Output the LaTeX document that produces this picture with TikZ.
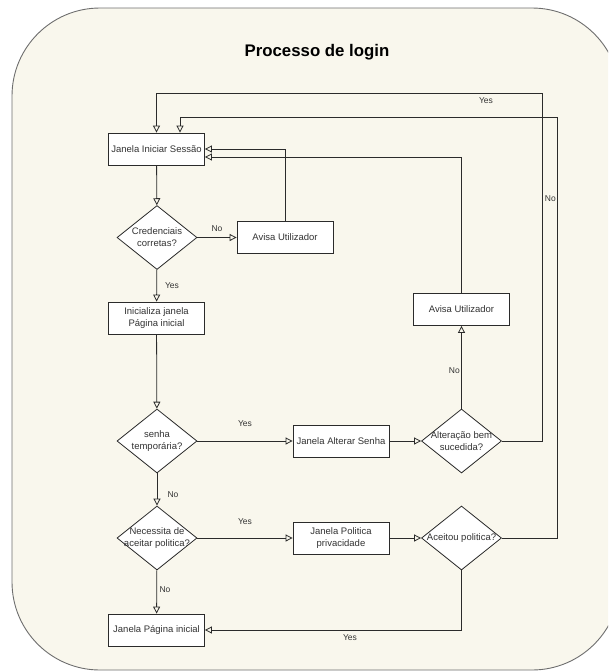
\documentclass[tikz,border=0pt]{standalone}
\usepackage{fontspec}
\setmainfont{Liberation Sans}
\usetikzlibrary{arrows.meta,shapes.geometric}
\definecolor{canvas}{HTML}{F9F7ED}
\definecolor{frame}{HTML}{6E6E6E}
\definecolor{ink}{HTML}{2B2B2B}
\definecolor{textgray}{HTML}{333333}
\begin{document}
\begin{tikzpicture}[x=1pt,y=-1pt,
  stepbox/.style={draw=ink, fill=white, line width=0.8pt, minimum width=96pt,
    minimum height=32pt, inner sep=1pt, align=center,
    font=\fontsize{9.5}{12}\selectfont, text=textgray},
  decision/.style={diamond, draw=ink, fill=white, line width=0.8pt,
    minimum width=80pt, minimum height=64pt, inner sep=0pt},
  dtext/.style={align=center, inner sep=0pt,
    font=\fontsize{9.5}{12}\selectfont, text=textgray},
  flow/.style={draw=ink, line width=0.8pt,
    -{Triangle[open,length=7pt,width=7pt]}},
  lbl/.style={font=\fontsize{8.5}{10}\selectfont, text=textgray, inner sep=1pt}
]
\useasboundingbox (0,0) rectangle (608,672);

% frame of the whole process
\begin{scope}
  \clip (0,0) rectangle (608,672);
  \path[fill=canvas, draw=frame, line width=0.9pt, rounded corners=88pt]
    (12,8) rectangle (620,670);
\end{scope}

\node[font=\bfseries\fontsize{16.8}{20}\selectfont, text=black] (title) at (317,52) {Processo de login};

% steps
\node[stepbox] (ini) at (156.5,149) {Janela Iniciar Sessão};
\node[decision] (cred) at (157,237.5) {};
\node[dtext] (credtxt) at (cred) {Credenciais\\corretas?};
\node[stepbox] (avisa1) at (285,237.5) {Avisa Utilizador};
\node[stepbox] (inicializa) at (156.5,318) {Inicializa janela\\Página inicial};
\node[decision] (senha) at (157,441) {};
\node[dtext] (senhatxt) at (senha) {senha\\temporária?};
\node[stepbox] (alterar) at (341,441) {Janela Alterar Senha};
\node[decision] (alteracao) at (461.5,441) {};
\node[dtext] (alteracaotxt) at (alteracao) {Alteração bem\\sucedida?};
\node[stepbox] (avisa2) at (461.5,309.5) {Avisa Utilizador};
\node[decision] (necessita) at (157,538) {};
\node[dtext] (necessitatxt) at (necessita) {Necessita de\\aceitar politica?};
\node[stepbox] (politica) at (341,538) {Janela Politica\\privacidade};
\node[decision] (aceitou) at (461.5,538) {};
\node[dtext] (aceitoutxt) at (aceitou) {Aceitou politica?};
\node[stepbox] (pagina) at (156.5,630) {Janela Página inicial};

% bends of the return lines
\coordinate (yesbend) at (542,93);
\coordinate (nobend) at (557,117);

% connectors
\draw[flow] (ini) -- (cred);
\draw[flow] (cred) -- (avisa1);
\draw[flow] (cred) -- (inicializa);
\draw[flow] (avisa1.north) |- (ini.east);
\draw[flow] (inicializa) -- (senha);
\draw[flow] (senha) -- (alterar);
\draw[flow] (alterar) -- (alteracao);
\draw[flow] (alteracao) -- (avisa2);
\draw[flow] (avisa2.north) |- ([yshift=-8pt]ini.east);
\draw[flow] (alteracao.east) -| (yesbend) -| (ini.north);
\draw[flow] (senha) -- (necessita);
\draw[flow] (necessita) -- (politica);
\draw[flow] (politica) -- (aceitou);
\draw[flow] (aceitou.east) -| (nobend) -| ([xshift=23.5pt]ini.north);
\draw[flow] (aceitou.south) |- (pagina.east);
\draw[flow] (necessita) -- (pagina);

% answers on the connectors
\node[lbl] (l1) at (217,229) {No};
\node[lbl] (l2) at (172,286) {Yes};
\node[lbl] (l3) at (245,424) {Yes};
\node[lbl, anchor=east] (l4) at (461,371) {No};
\node[lbl] (l5) at (486,101) {Yes};
\node[lbl, anchor=east] (l6) at (557,199) {No};
\node[lbl] (l7) at (173,495) {No};
\node[lbl] (l8) at (245,522) {Yes};
\node[lbl] (l9) at (165,590) {No};
\node[lbl] (l10) at (350,638) {Yes};
\end{tikzpicture}
\end{document}
